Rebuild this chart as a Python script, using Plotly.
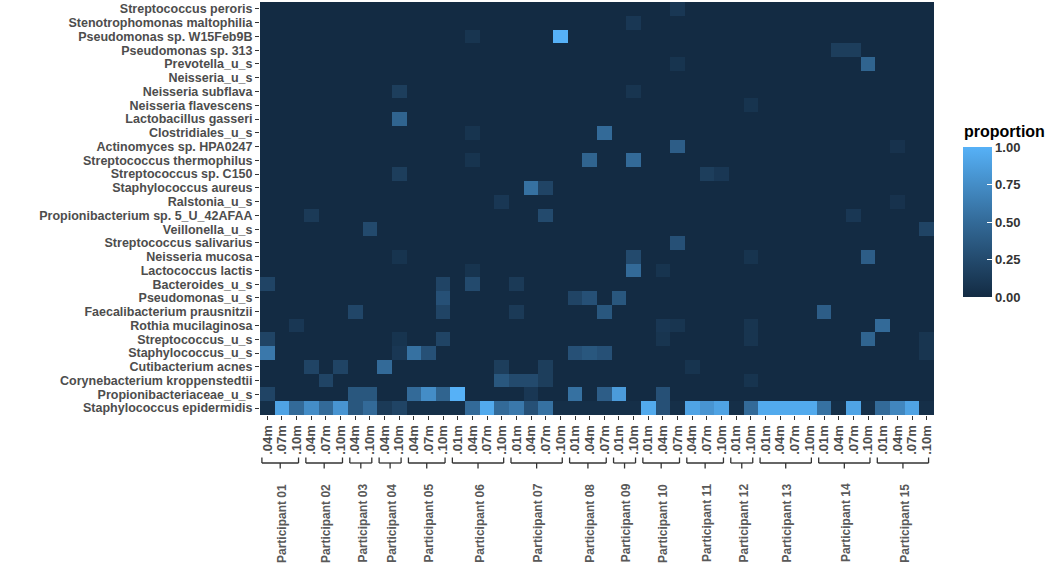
import plotly.graph_objects as go

# ---------------- data ----------------
species = [
    "Streptococcus peroris", "Stenotrophomonas maltophilia", "Pseudomonas sp. W15Feb9B",
    "Pseudomonas sp. 313", "Prevotella_u_s", "Neisseria_u_s", "Neisseria subflava",
    "Neisseria flavescens", "Lactobacillus gasseri", "Clostridiales_u_s",
    "Actinomyces sp. HPA0247", "Streptococcus thermophilus", "Streptococcus sp. C150",
    "Staphylococcus aureus", "Ralstonia_u_s", "Propionibacterium sp. 5_U_42AFAA",
    "Veillonella_u_s", "Streptococcus salivarius", "Neisseria mucosa", "Lactococcus lactis",
    "Bacteroides_u_s", "Pseudomonas_u_s", "Faecalibacterium prausnitzii",
    "Rothia mucilaginosa", "Streptococcus_u_s", "Staphylococcus_u_s", "Cutibacterium acnes",
    "Corynebacterium kroppenstedtii", "Propionibacteriaceae_u_s", "Staphylococcus epidermidis",
]

depth_labels = [
    ".04m", ".07m", ".10m",            # 01
    ".04m", ".07m", ".10m",            # 02
    ".04m", ".10m",                    # 03
    ".04m", ".10m",                    # 04
    ".04m", ".07m", ".10m",            # 05
    ".01m", ".04m", ".07m", ".10m",    # 06
    ".01m", ".04m", ".07m", ".10m",    # 07
    ".01m", ".04m", ".07m",            # 08
    ".01m", ".10m",                    # 09
    ".01m", ".04m", ".07m",            # 10
    ".04m", ".07m", ".10m",            # 11
    ".01m", ".10m",                    # 12
    ".01m", ".04m", ".07m", ".10m",    # 13
    ".01m", ".04m", ".07m", ".10m",    # 14
    ".01m", ".04m", ".07m", ".10m",    # 15
]
column_participant = (
    ["Participant 01"] * 3 + ["Participant 02"] * 3 + ["Participant 03"] * 2 +
    ["Participant 04"] * 2 + ["Participant 05"] * 3 + ["Participant 06"] * 4 +
    ["Participant 07"] * 4 + ["Participant 08"] * 3 + ["Participant 09"] * 2 +
    ["Participant 10"] * 3 + ["Participant 11"] * 3 + ["Participant 12"] * 2 +
    ["Participant 13"] * 4 + ["Participant 14"] * 4 + ["Participant 15"] * 4
)

# Staphylococcus epidermidis, one value per column
epidermidis = [
    0.03, 0.90, 0.50, 0.75, 0.50, 0.80, 0.35, 0.50, 0.12, 0.20,
    0.03, 0.03, 0.03, 0.03, 0.50, 0.95, 0.50, 0.60, 0.30, 0.55,
    0.03, 0.03, 0.03, 0.03, 0.03, 0.03, 0.95, 0.30, 0.03, 0.90,
    0.80, 0.90, 0.03, 0.50, 0.95, 0.95, 0.95, 0.95, 0.55, 0.03,
    0.90, 0.03, 0.50, 0.70, 0.90, 0.03,
]

# other non-negligible cells (species, column index, proportion)
cell_species = [
    "Streptococcus peroris",
    "Stenotrophomonas maltophilia",
    "Pseudomonas sp. W15Feb9B", "Pseudomonas sp. W15Feb9B",
    "Pseudomonas sp. 313", "Pseudomonas sp. 313",
    "Prevotella_u_s", "Prevotella_u_s",
    "Neisseria subflava", "Neisseria subflava",
    "Neisseria flavescens",
    "Lactobacillus gasseri",
    "Clostridiales_u_s", "Clostridiales_u_s",
    "Actinomyces sp. HPA0247", "Actinomyces sp. HPA0247",
    "Streptococcus thermophilus", "Streptococcus thermophilus", "Streptococcus thermophilus",
    "Streptococcus sp. C150", "Streptococcus sp. C150", "Streptococcus sp. C150",
    "Staphylococcus aureus", "Staphylococcus aureus",
    "Ralstonia_u_s", "Ralstonia_u_s",
    "Propionibacterium sp. 5_U_42AFAA", "Propionibacterium sp. 5_U_42AFAA", "Propionibacterium sp. 5_U_42AFAA",
    "Veillonella_u_s", "Veillonella_u_s",
    "Streptococcus salivarius",
    "Neisseria mucosa", "Neisseria mucosa", "Neisseria mucosa", "Neisseria mucosa",
    "Lactococcus lactis", "Lactococcus lactis", "Lactococcus lactis",
    "Bacteroides_u_s", "Bacteroides_u_s", "Bacteroides_u_s", "Bacteroides_u_s",
    "Pseudomonas_u_s", "Pseudomonas_u_s", "Pseudomonas_u_s", "Pseudomonas_u_s",
    "Faecalibacterium prausnitzii", "Faecalibacterium prausnitzii", "Faecalibacterium prausnitzii",
    "Faecalibacterium prausnitzii", "Faecalibacterium prausnitzii",
    "Rothia mucilaginosa", "Rothia mucilaginosa", "Rothia mucilaginosa", "Rothia mucilaginosa",
    "Rothia mucilaginosa",
    "Streptococcus_u_s", "Streptococcus_u_s", "Streptococcus_u_s", "Streptococcus_u_s",
    "Streptococcus_u_s", "Streptococcus_u_s", "Streptococcus_u_s",
    "Staphylococcus_u_s", "Staphylococcus_u_s", "Staphylococcus_u_s", "Staphylococcus_u_s",
    "Staphylococcus_u_s", "Staphylococcus_u_s", "Staphylococcus_u_s", "Staphylococcus_u_s",
    "Cutibacterium acnes", "Cutibacterium acnes", "Cutibacterium acnes", "Cutibacterium acnes",
    "Cutibacterium acnes", "Cutibacterium acnes",
    "Corynebacterium kroppenstedtii", "Corynebacterium kroppenstedtii", "Corynebacterium kroppenstedtii",
    "Corynebacterium kroppenstedtii", "Corynebacterium kroppenstedtii", "Corynebacterium kroppenstedtii",
    "Propionibacteriaceae_u_s", "Propionibacteriaceae_u_s", "Propionibacteriaceae_u_s",
    "Propionibacteriaceae_u_s", "Propionibacteriaceae_u_s", "Propionibacteriaceae_u_s",
    "Propionibacteriaceae_u_s", "Propionibacteriaceae_u_s", "Propionibacteriaceae_u_s",
    "Propionibacteriaceae_u_s", "Propionibacteriaceae_u_s", "Propionibacteriaceae_u_s",
]
cell_column = [
    28,
    25,
    14, 20,
    39, 40,
    28, 41,
    9, 25,
    33,
    9,
    14, 23,
    28, 43,
    14, 22, 25,
    9, 30, 31,
    18, 19,
    16, 43,
    3, 19, 40,
    7, 45,
    28,
    9, 25, 33, 41,
    14, 25, 27,
    0, 12, 14, 17,
    12, 21, 22, 24,
    6, 12, 17,
    23, 38,
    2, 27, 28, 33,
    42,
    0, 9, 12, 27,
    33, 41, 45,
    0, 9, 10, 11,
    21, 22, 23, 45,
    3, 5, 8, 16,
    19, 29,
    4, 16, 17,
    18, 19, 33,
    0, 6, 7,
    10, 11, 12,
    13, 18, 21,
    23, 24, 27,
]
cell_value = [
    0.10,
    0.10,
    0.08, 1.00,
    0.15, 0.15,
    0.07, 0.45,
    0.15, 0.08,
    0.07,
    0.45,
    0.07, 0.50,
    0.40, 0.06,
    0.07, 0.45, 0.50,
    0.15, 0.15, 0.10,
    0.55, 0.20,
    0.10, 0.06,
    0.12, 0.25, 0.10,
    0.25, 0.20,
    0.30,
    0.07, 0.25, 0.07, 0.40,
    0.07, 0.50, 0.07,
    0.20, 0.20, 0.25, 0.12,
    0.30, 0.20, 0.30, 0.35,
    0.22, 0.20, 0.12,
    0.35, 0.40,
    0.10, 0.10, 0.08, 0.08,
    0.50,
    0.20, 0.07, 0.20, 0.08,
    0.08, 0.45, 0.08,
    0.60, 0.10, 0.55, 0.30,
    0.30, 0.35, 0.30, 0.08,
    0.20, 0.20, 0.50, 0.15,
    0.15, 0.07,
    0.20, 0.35, 0.25,
    0.25, 0.15, 0.07,
    0.20, 0.35, 0.35,
    0.50, 0.75, 0.45,
    1.00, 0.10, 0.55,
    0.40, 0.85, 0.30,
]

colorbar_ticks = [0.0, 0.25, 0.5, 0.75, 1.0]
colorbar_ticktext = ["0.00", "0.25", "0.50", "0.75", "1.00"]

# ---------------- build matrix ----------------
n_cols = len(depth_labels)
z = [[0.0] * n_cols for _ in species]
for s, c, v in zip(cell_species, cell_column, cell_value):
    z[species.index(s)][c] = v
z[species.index("Staphylococcus epidermidis")] = list(epidermidis)

# ---------------- geometry ----------------
W, H = 1054, 571
M_L, M_R, M_T, M_B = 260, 120, 2, 156
plot_w = W - M_L - M_R
plot_h = H - M_T - M_B
bottom_px = H - M_B


def py(px):
    """pixel row (from top of page) -> paper y"""
    return (bottom_px - px) / plot_h


def pxx(px):
    """pixel column (from left of page) -> paper x"""
    return (px - M_L) / plot_w


TEXT_GREY = "#4D4D4D"
FONT = "Liberation Sans, Arial, sans-serif"

colorscale = [
    [0.0, "#132B43"],
    [0.25, "#234A6D"],
    [0.5, "#336A98"],
    [0.75, "#448DC7"],
    [1.0, "#56B1F7"],
]

fig = go.Figure(
    go.Heatmap(
        z=z,
        x=list(range(n_cols)),
        y=species,
        zmin=0,
        zmax=1,
        colorscale=colorscale,
        colorbar=dict(
            x=pxx(963),
            xanchor="left",
            y=py(222),
            yanchor="middle",
            len=150,
            lenmode="pixels",
            thickness=29,
            outlinewidth=0,
            tickvals=colorbar_ticks,
            ticktext=colorbar_ticktext,
            ticks="inside",
            ticklen=5,
            tickcolor="#FFFFFF",
            tickwidth=1,
            tickfont=dict(size=13, color="#333333", family=FONT, weight="bold"),
            xpad=0,
            ypad=0,
        ),
    )
)

# participant brackets and labels
groups = []
for i, p in enumerate(column_participant):
    if not groups or groups[-1][0] != p:
        groups.append([p, i, i])
    else:
        groups[-1][2] = i

shapes = []
annotations = [dict(
    text="proportion", x=pxx(962), xref="paper", y=py(131), yref="paper",
    xanchor="left", yanchor="middle", showarrow=False,
    font=dict(size=16, color="#000000", family=FONT, weight="bold"),
)]
line_style = dict(color="#333333", width=1.3)
y_bar = py(463)
y_up = py(457.5)
y_down = py(468.5)
for name, first, last in groups:
    x0 = first - 0.37
    x1 = last + 0.13
    xm = (x0 + x1) / 2
    shapes.append(dict(type="line", xref="x", yref="paper", x0=x0, x1=x1, y0=y_bar, y1=y_bar, line=line_style))
    shapes.append(dict(type="line", xref="x", yref="paper", x0=x0, x1=x0, y0=y_bar, y1=y_up, line=line_style))
    shapes.append(dict(type="line", xref="x", yref="paper", x0=x1, x1=x1, y0=y_bar, y1=y_up, line=line_style))
    shapes.append(dict(type="line", xref="x", yref="paper", x0=xm, x1=xm, y0=y_bar, y1=y_down, line=line_style))
    annotations.append(dict(
        text=name, x=(first + last) / 2, xref="x", y=py(523), yref="paper",
        textangle=-90, showarrow=False, xanchor="center", yanchor="middle",
        font=dict(size=12, color="#595959", family=FONT, weight="bold"),
    ))

fig.update_layout(
    width=W,
    height=H,
    margin=dict(l=M_L, r=M_R, t=M_T, b=M_B, autoexpand=False),
    paper_bgcolor="#FFFFFF",
    plot_bgcolor="#FFFFFF",
    shapes=shapes,
    annotations=annotations,
    xaxis=dict(
        tickmode="array",
        tickvals=list(range(n_cols)),
        ticktext=depth_labels,
        tickangle=-90,
        ticks="outside",
        ticklen=4,
        tickcolor="#333333",
        tickfont=dict(size=13, color=TEXT_GREY, family=FONT, weight="bold"),
        showgrid=False,
        zeroline=False,
        showline=False,
        range=[-0.5, n_cols - 0.5],
        fixedrange=True,
    ),
    yaxis=dict(
        type="category",
        autorange="reversed",
        tickmode="array",
        tickvals=species,
        ticktext=species,
        ticks="outside",
        ticklen=4,
        tickcolor="#333333",
        tickfont=dict(size=12.5, color=TEXT_GREY, family=FONT, weight="bold"),
        showgrid=False,
        zeroline=False,
        showline=False,
        fixedrange=True,
    ),
)

fig.write_html(
    "out.html",
    config={"displayModeBar": False},
    post_script="document.body.style.margin='0px';document.body.style.overflow='hidden';",
)
